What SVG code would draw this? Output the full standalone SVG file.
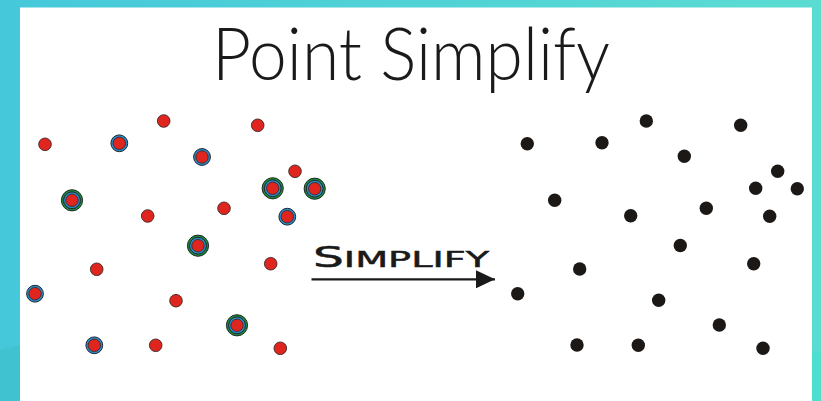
<svg xmlns="http://www.w3.org/2000/svg" xmlns:xlink="http://www.w3.org/1999/xlink" width="821" height="401" viewBox="0 0 821 401">
<style>
.title{font-family:Lato,"DejaVu Sans",sans-serif;font-weight:300;font-size:73px;fill:#1a1a1a}
.lbl{font-family:"DejaVu Sans","Liberation Sans",sans-serif;font-weight:normal;fill:#1a1a1a;stroke:#1a1a1a;stroke-width:0.5}
.red{fill:#e0251f;stroke:#3a2a2a;stroke-width:0.9}
.blu{fill:#2a8dcc;stroke:#1c2630;stroke-width:1}
.grn{fill:#1e8a3c;stroke:#1c2a20;stroke-width:1}
.blk{fill:#1c1816}
</style>
<defs>
<linearGradient id="bg" x1="0" y1="0" x2="1" y2="0">
<stop offset="0" stop-color="#45c8da"/>
<stop offset="1" stop-color="#5bdcd2"/>
</linearGradient>
<g id="pR"><circle r="6.3" class="red"/></g>
<g id="pB"><circle r="8.4" class="blu"/><circle r="6.2" class="red"/></g>
<g id="pG"><circle r="10.6" class="grn"/><circle r="8.4" class="blu"/><circle r="6.2" class="red"/></g>
<g id="pK"><circle r="6.7" class="blk"/></g>
<marker id="ah" markerWidth="19" markerHeight="18" refX="19" refY="9" orient="auto" markerUnits="userSpaceOnUse" viewBox="0 0 19 18">
<path d="M0,0 L19,9 L0,18 Z" fill="#1a1a1a"/>
</marker>
</defs>
<rect width="821" height="401" fill="url(#bg)"/>
<path d="M0,350 C40,340 90,330 140,335 L140,401 L0,401 Z" fill="#3dbec9" opacity="0.6"/>
<path d="M812,340 C790,345 780,350 821,352 L821,401 L812,401 Z" fill="#45e0ca" opacity="0.6"/>
<rect x="20" y="7.5" width="792" height="394" fill="#ffffff"/>

<g id="title"><text class="title" x="411" y="80" text-anchor="middle" textLength="398" lengthAdjust="spacingAndGlyphs">Point Simplify</text></g>

<g id="original-points">
<use id="o1" xlink:href="#pR" x="45" y="144.3"/>
<use id="o2" xlink:href="#pB" x="119.3" y="143.3"/>
<use id="o3" xlink:href="#pR" x="163.7" y="121"/>
<use id="o4" xlink:href="#pR" x="257.7" y="125.3"/>
<use id="o5" xlink:href="#pB" x="202" y="157"/>
<use id="o6" xlink:href="#pR" x="295" y="171.3"/>
<use id="o7" xlink:href="#pG" x="272.7" y="188.3"/>
<use id="o8" xlink:href="#pG" x="314.7" y="188.7"/>
<use id="o9" xlink:href="#pG" x="72" y="200.3"/>
<use id="o10" xlink:href="#pR" x="147.7" y="216"/>
<use id="o11" xlink:href="#pR" x="224" y="208.3"/>
<use id="o12" xlink:href="#pB" x="287.3" y="216.7"/>
<use id="o13" xlink:href="#pG" x="198" y="245.7"/>
<use id="o14" xlink:href="#pR" x="96.7" y="269.3"/>
<use id="o15" xlink:href="#pR" x="270.7" y="263.7"/>
<use id="o16" xlink:href="#pB" x="35" y="293.7"/>
<use id="o17" xlink:href="#pR" x="176" y="300.7"/>
<use id="o18" xlink:href="#pG" x="237" y="325.3"/>
<use id="o19" xlink:href="#pB" x="94.3" y="345.3"/>
<use id="o20" xlink:href="#pR" x="155.7" y="345.3"/>
<use id="o21" xlink:href="#pR" x="280.3" y="348.3"/>
</g>

<g id="simplified-points">
<use id="s1" xlink:href="#pK" x="527.3" y="143.7"/>
<use id="s2" xlink:href="#pK" x="602" y="142.7"/>
<use id="s3" xlink:href="#pK" x="646.3" y="121"/>
<use id="s4" xlink:href="#pK" x="740.7" y="125.3"/>
<use id="s5" xlink:href="#pK" x="684.3" y="156.3"/>
<use id="s6" xlink:href="#pK" x="777.7" y="171.3"/>
<use id="s7" xlink:href="#pK" x="755.7" y="188.3"/>
<use id="s8" xlink:href="#pK" x="797.3" y="188.7"/>
<use id="s9" xlink:href="#pK" x="554.7" y="200.3"/>
<use id="s10" xlink:href="#pK" x="630.7" y="215.7"/>
<use id="s11" xlink:href="#pK" x="706.3" y="208.3"/>
<use id="s12" xlink:href="#pK" x="769.7" y="216.3"/>
<use id="s13" xlink:href="#pK" x="680.3" y="245.5"/>
<use id="s14" xlink:href="#pK" x="579.7" y="269"/>
<use id="s15" xlink:href="#pK" x="753.7" y="263.7"/>
<use id="s16" xlink:href="#pK" x="517.7" y="293.7"/>
<use id="s17" xlink:href="#pK" x="658.7" y="300.3"/>
<use id="s18" xlink:href="#pK" x="719.3" y="325"/>
<use id="s19" xlink:href="#pK" x="577" y="345"/>
<use id="s20" xlink:href="#pK" x="638.3" y="345.3"/>
<use id="s21" xlink:href="#pK" x="763" y="348.3"/>
</g>

<g id="connectors">
<line x1="311.5" y1="279.3" x2="495" y2="279.3" stroke="#1a1a1a" stroke-width="2.2" marker-end="url(#ah)"/>
</g>
<g id="arrow-label">
<text class="lbl" x="313" y="266.7" textLength="176" lengthAdjust="spacingAndGlyphs"><tspan font-size="28">S</tspan><tspan font-size="22">IMPLIFY</tspan></text>
</g>
</svg>
